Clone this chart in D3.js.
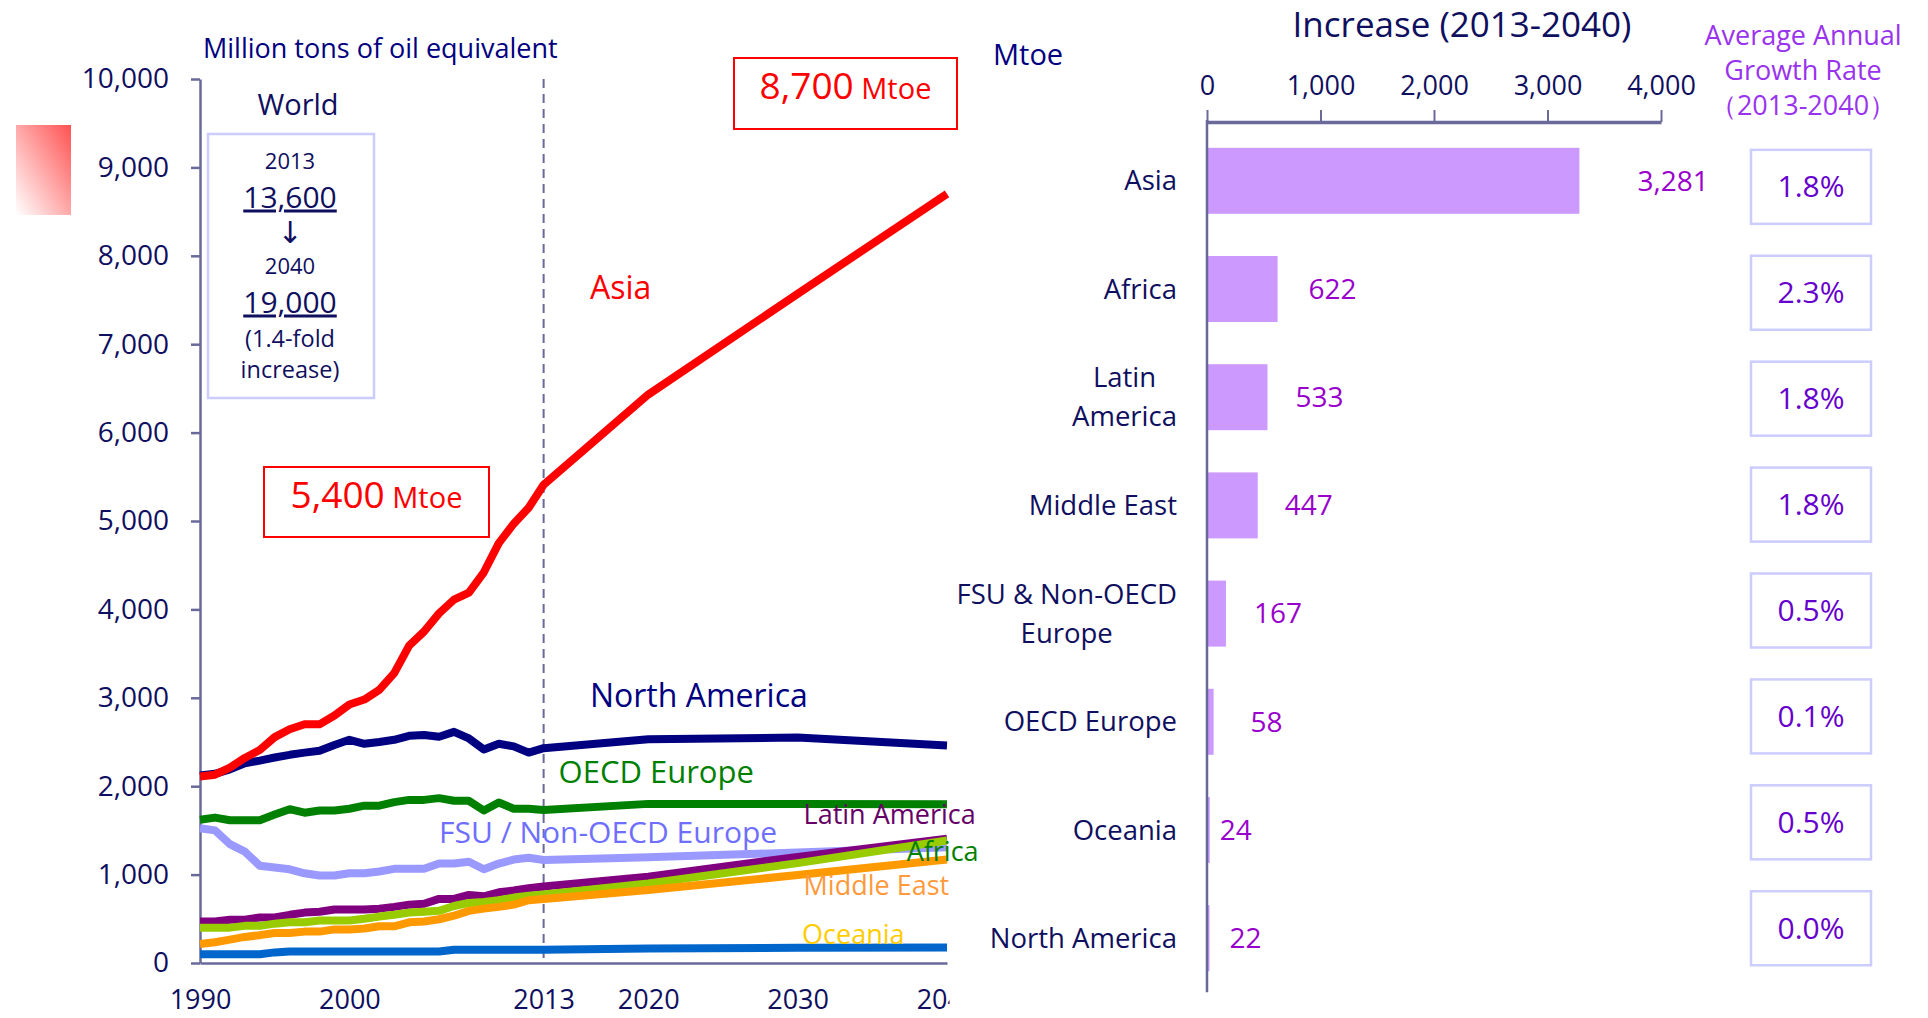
<!DOCTYPE html>
<html>
<head>
<meta charset="utf-8">
<script src="https://cdn.jsdelivr.net/npm/d3@7"></script>
<style>
  body { margin: 0; background: #fff; }
  svg { display: block; font-family: "Open Sans", sans-serif; }
</style>
</head>
<body>
<svg id="chart" width="1928" height="1018"></svg>
<script>
// ---- data ----
var years = [1990, 1991, 1992, 1993, 1994, 1995, 1996, 1997, 1998, 1999,
             2000, 2001, 2002, 2003, 2004, 2005, 2006, 2007, 2008, 2009,
             2010, 2011, 2012, 2013, 2020, 2030, 2040];

var asia = [2110, 2130, 2210, 2320, 2410, 2555, 2645, 2700, 2700, 2800,
            2925, 2980, 3090, 3280, 3590, 3750, 3955, 4110, 4190, 4420,
            4750, 4970, 5150, 5410, 6430, 7570, 8700];
var northAmerica = [2120, 2140, 2190, 2260, 2290, 2325, 2355, 2380, 2400, 2465,
                    2525, 2480, 2500, 2525, 2570, 2580, 2560, 2615, 2540, 2415,
                    2480, 2450, 2380, 2430, 2530, 2550, 2460];
var oecdEurope = [1620, 1645, 1615, 1615, 1615, 1680, 1740, 1700, 1725, 1725,
                  1745, 1780, 1780, 1820, 1845, 1845, 1865, 1835, 1835, 1725,
                  1815, 1745, 1745, 1730, 1800, 1800, 1795];
var fsuNonOecd = [1525, 1500, 1345, 1260, 1100, 1080, 1060, 1015, 990, 990,
                  1015, 1015, 1035, 1065, 1065, 1065, 1125, 1125, 1145, 1060,
                  1125, 1170, 1190, 1165, 1195, 1250, 1310];
var latinAmerica = [470, 470, 490, 490, 515, 515, 545, 570, 580, 605,
                    605, 605, 615, 635, 660, 670, 725, 725, 770, 755,
                    800, 820, 845, 865, 975, 1200, 1405];
var africa = [400, 400, 400, 420, 420, 445, 460, 460, 480, 480,
              480, 500, 525, 545, 570, 580, 590, 645, 680, 690,
              710, 740, 760, 775, 900, 1130, 1385];
var middleEast = [215, 235, 265, 295, 315, 340, 340, 355, 355, 380,
                  380, 390, 415, 415, 460, 470, 495, 535, 590, 615,
                  635, 660, 710, 725, 825, 995, 1170];
var oceania = [100, 100, 100, 100, 100, 120, 130, 130, 130, 130,
               130, 130, 130, 130, 130, 130, 130, 150, 150, 150,
               150, 150, 150, 150, 165, 172, 176];

var yTicks = [0, 1000, 2000, 3000, 4000, 5000, 6000, 7000, 8000, 9000, 10000];
var xTicks = [1990, 2000, 2013, 2020, 2030, 2040];

var regions = ["Asia", "Africa", "Latin America", "Middle East",
               "FSU & Non-OECD Europe", "OECD Europe", "Oceania", "North America"];
var regionLabels = [["Asia"], ["Africa"], ["Latin", "America"], ["Middle East"],
                    ["FSU & Non-OECD", "Europe"], ["OECD Europe"], ["Oceania"], ["North America"]];
var increase = [3281, 622, 533, 447, 167, 58, 24, 22];
var growthRate = ["1.8%", "2.3%", "1.8%", "1.8%", "0.5%", "0.1%", "0.5%", "0.0%"];
var barTicks = [0, 1000, 2000, 3000, 4000];

// ---- layout / style ----
var navy = "#0f0f60";
var axisColor = "#6a6a9a";
var valueLabelGap = [58, 31, 28, 27, 28, 37, 10, 20];

// series drawn bottom to top
var series = [
  {name: "FSU / Non-OECD Europe", values: fsuNonOecd, color: "#9999ff", text: "#6f6fff", lx: 2006.0, ly: 1480, size: 30},
  {name: "Latin America", values: latinAmerica, color: "#800080", text: "#660066", lx: 2030.4, ly: 1684, size: 27},
  {name: "Africa", values: africa, color: "#99cc00", text: "#008000", lx: 2037.3, ly: 1266, size: 27},
  {name: "Middle East", values: middleEast, color: "#ff9900", text: "#ff9a3c", lx: 2030.4, ly: 880, size: 27},
  {name: "Oceania", values: oceania, color: "#0066cc", text: "#ffcc00", lx: 2030.3, ly: 326, size: 27},
  {name: "OECD Europe", values: oecdEurope, color: "#008000", text: "#008000", lx: 2014.0, ly: 2158, size: 31},
  {name: "North America", values: northAmerica, color: "#000080", text: "#000080", lx: 2016.1, ly: 3018, size: 32},
  {name: "Asia", values: asia, color: "#ff0000", text: "#ff0000", lx: 2016.1, ly: 7633, size: 32}
];

var svg = d3.select("#chart");
var defs = svg.append("defs");

// ---- left: line chart ----
var x = d3.scaleLinear().domain([1990, 2040]).range([200, 947]);
var y = d3.scaleLinear().domain([0, 10000]).range([963, 79]);

var grad = defs.append("linearGradient").attr("id", "pink")
    .attr("x1", "100%").attr("y1", "0%").attr("x2", "0%").attr("y2", "100%");
grad.append("stop").attr("offset", "0%").attr("stop-color", "#ff5252");
grad.append("stop").attr("offset", "100%").attr("stop-color", "#ffffff");
svg.append("rect").attr("x", 16).attr("y", 125).attr("width", 55).attr("height", 90)
    .attr("fill", "url(#pink)");

// the last year label is cut at the plot's right edge, as in the source
defs.append("clipPath").attr("id", "edgeClip")
  .append("rect").attr("x", -60).attr("y", -10).attr("width", 62).attr("height", 80);

var yAxis = d3.axisLeft(y).tickValues(yTicks).tickFormat(d3.format(","))
    .tickSize(9).tickSizeOuter(0).tickPadding(22);
var gy = svg.append("g").attr("transform", "translate(200,0)").call(yAxis);
gy.select(".domain").attr("stroke", axisColor).attr("stroke-width", 2.5);
gy.selectAll(".tick line").attr("stroke", axisColor).attr("stroke-width", 2.5);
gy.selectAll(".tick text").attr("fill", navy).style("font-size", "28px")
    .style("font-family", "Open Sans");

var xAxis = d3.axisBottom(x).tickValues(xTicks).tickFormat(d3.format("d"))
    .tickSize(0).tickSizeOuter(0);
var gx = svg.append("g").attr("transform", "translate(0,963)").call(xAxis);
gx.select(".domain").attr("stroke", axisColor).attr("stroke-width", 2.5);
gx.selectAll(".tick text").attr("fill", navy).attr("y", 37).attr("dy", "0.35em")
    .style("font-size", "27px").style("font-family", "Open Sans");
gx.selectAll(".tick").filter(function(d) { return d === 2040; })
    .attr("clip-path", "url(#edgeClip)");

// 2013 divider
svg.append("line")
    .attr("x1", x(2013)).attr("x2", x(2013)).attr("y1", y(10000)).attr("y2", y(0))
    .attr("stroke", axisColor).attr("stroke-width", 2).attr("stroke-dasharray", "9,6");

var line = d3.line()
    .x(function(d, i) { return x(years[i]); })
    .y(function(d) { return y(d); });

svg.append("g").selectAll("path").data(series).enter().append("path")
    .attr("d", function(d) { return line(d.values); })
    .attr("fill", "none")
    .attr("stroke", function(d) { return d.color; })
    .attr("stroke-width", 8)
    .attr("stroke-linejoin", "round");

svg.append("g").selectAll("text").data(series).enter().append("text")
    .attr("x", function(d) { return x(d.lx); })
    .attr("y", function(d) { return y(d.ly); })
    .attr("dy", "0.35em")
    .attr("fill", function(d) { return d.text; })
    .style("font-size", function(d) { return d.size + "px"; })
    .text(function(d) { return d.name; });

svg.append("text").attr("x", 203).attr("y", 49).attr("dy", "0.35em")
    .attr("fill", "#000080").style("font-size", "27px")
    .text("Million tons of oil equivalent");

svg.append("text").attr("x", 993).attr("y", 55).attr("dy", "0.35em")
    .attr("fill", "#000080").style("font-size", "29px").text("Mtoe");

// World box
svg.append("text").attr("x", 298).attr("y", 105).attr("dy", "0.35em")
    .attr("text-anchor", "middle").attr("fill", navy).style("font-size", "29px").text("World");
svg.append("rect").attr("x", 208).attr("y", 134).attr("width", 166).attr("height", 264)
    .attr("fill", "none").attr("stroke", "#ccccff").attr("stroke-width", 2.5);
var worldLines = [
  {t: "2013", y: 161, s: 22},
  {t: "13,600", y: 197, s: 30, u: true},
  {t: "\u2193", y: 232, s: 30, f: "DejaVu Sans"},
  {t: "2040", y: 266, s: 22},
  {t: "19,000", y: 302, s: 30, u: true},
  {t: "(1.4-fold", y: 339, s: 23.5},
  {t: "increase)", y: 370, s: 23.5}
];
svg.append("g").selectAll("text").data(worldLines).enter().append("text")
    .attr("x", 290).attr("y", function(d) { return d.y; }).attr("dy", "0.35em")
    .attr("text-anchor", "middle").attr("fill", navy)
    .style("font-size", function(d) { return d.s + "px"; })
    .style("font-family", function(d) { return d.f || null; })
    .style("text-decoration", function(d) { return d.u ? "underline" : null; })
    .text(function(d) { return d.t; });

// Mtoe callouts
function callout(bx, by, bw, bh, num) {
  svg.append("rect").attr("x", bx).attr("y", by).attr("width", bw).attr("height", bh)
      .attr("fill", "#fff").attr("stroke", "#ff0000").attr("stroke-width", 2);
  var t = svg.append("text").attr("x", bx + bw / 2).attr("y", by + bh / 2).attr("dy", "0.35em")
      .attr("text-anchor", "middle").attr("fill", "#ff0000");
  t.append("tspan").style("font-size", "37px").text(num);
  t.append("tspan").style("font-size", "29px").text(" Mtoe");
}
callout(264, 467, 225, 70, "5,400");
callout(734, 58, 223, 71, "8,700");

// ---- right: bar chart ----
var xb = d3.scaleLinear().domain([0, 4000]).range([1207, 1661]);
var yb = d3.scaleBand().domain(regions).range([126.7, 992.3])
    .paddingInner(0.39).paddingOuter(0.195);
var yBox = d3.scaleBand().domain(regions).range([133.9, 981.2]);

svg.append("text").attr("x", 1462).attr("y", 25).attr("dy", "0.35em")
    .attr("text-anchor", "middle").attr("fill", navy).style("font-size", "35px")
    .text("Increase (2013-2040)");

var topAxis = d3.axisTop(xb).tickValues(barTicks).tickFormat(d3.format(","))
    .tickSize(12).tickSizeOuter(0).tickPadding(15);
var gt = svg.append("g").attr("transform", "translate(0,122)").call(topAxis);
gt.select(".domain").attr("stroke", axisColor).attr("stroke-width", 3.5);
gt.selectAll(".tick line").attr("stroke", axisColor).attr("stroke-width", 2);
gt.selectAll(".tick text").attr("fill", navy).style("font-size", "27px")
    .style("font-family", "Open Sans");

svg.append("g").selectAll("rect").data(increase).enter().append("rect")
    .attr("x", xb(0))
    .attr("y", function(d, i) { return yb(regions[i]); })
    .attr("width", function(d) { return xb(d) - xb(0); })
    .attr("height", yb.bandwidth())
    .attr("fill", "#cc99ff");

svg.append("line").attr("x1", xb(0)).attr("x2", xb(0))
    .attr("y1", 120).attr("y2", yb.range()[1])
    .attr("stroke", axisColor).attr("stroke-width", 2.5);

svg.append("g").selectAll("text").data(increase).enter().append("text")
    .attr("x", function(d, i) { return xb(d) + valueLabelGap[i]; })
    .attr("y", function(d, i) { return yb(regions[i]) + yb.bandwidth() / 2; })
    .attr("dy", "0.35em").attr("fill", "#9900cc").style("font-size", "28px")
    .text(function(d) { return d3.format(",")(d); });

// category labels, multi-line blocks centred then right-aligned
var catG = svg.append("g");
regionLabels.forEach(function(lines, i) {
  var cy = yb(regions[i]) + yb.bandwidth() / 2;
  var g = catG.append("g");
  var texts = lines.map(function(l, k) {
    return g.append("text")
        .attr("y", cy + (k - (lines.length - 1) / 2) * 39).attr("dy", "0.35em")
        .attr("text-anchor", "middle").attr("fill", navy).style("font-size", "27.5px")
        .text(l);
  });
  var w = d3.max(texts, function(t) { return t.node().getComputedTextLength(); });
  texts.forEach(function(t) { t.attr("x", 1177 - w / 2); });
});

// growth header and boxes
var header = ["Average Annual", "Growth Rate", "\uff082013-2040\uff09"];
svg.append("g").selectAll("text").data(header).enter().append("text")
    .attr("x", 1803).attr("y", function(d, i) { return 36 + i * 35; }).attr("dy", "0.35em")
    .attr("text-anchor", "middle").attr("fill", "#9933ee").style("font-size", "27px")
    .text(function(d) { return d; });

var boxes = svg.append("g").selectAll("g").data(growthRate).enter().append("g")
    .attr("transform", function(d, i) {
      return "translate(1751," + (yBox(regions[i]) + yBox.bandwidth() / 2 - 37) + ")";
    });
boxes.append("rect").attr("width", 120).attr("height", 74)
    .attr("fill", "#fff").attr("stroke", "#ccccff").attr("stroke-width", 2.5);
boxes.append("text").attr("x", 60).attr("y", 37).attr("dy", "0.35em")
    .attr("text-anchor", "middle").attr("fill", "#6600cc").style("font-size", "30px")
    .text(function(d) { return d; });
</script>
</body>
</html>
